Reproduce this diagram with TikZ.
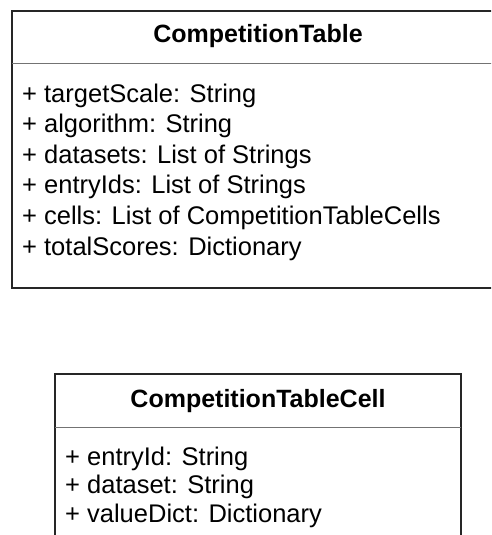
\documentclass[tikz,border=0pt]{standalone}
\usepackage{fontspec}
\setmainfont{Liberation Sans}
\begin{document}
\begin{tikzpicture}[x=1pt,y=-1pt,
  outerbox/.style={draw=black!85,line width=2pt},
  divider/.style={draw=black!55,line width=1pt},
  titletext/.style={anchor=base,inner sep=0pt,font=\fontsize{25}{30}\selectfont\bfseries},
  attrtext/.style={anchor=base west,inner sep=0pt,font=\fontsize{25.5}{30}\selectfont}]
\useasboundingbox (0,0) rectangle (491,535);
\clip (0,0) rectangle (491,535);
% top class
\draw[outerbox] (12,11) rectangle (505,288);
\draw[divider] (12,64) -- (505,64);
\node[titletext] (t1) at (258,43) {CompetitionTable};
\node[attrtext] (a1) at (22,102) {+ targetScale: String};
\node[attrtext] (a2) at (22,132.6) {+ algorithm: String};
\node[attrtext] (a3) at (22,163.2) {+ datasets: List of Strings};
\node[attrtext] (a4) at (22,193.8) {+ entryIds: List of Strings};
\node[attrtext] (a5) at (22,224.4) {+ cells: List of CompetitionTableCells};
\node[attrtext] (a6) at (22,255) {+ totalScores: Dictionary};
% bottom class
\draw[outerbox,line width=1.6pt] (55,374) rectangle (461,560);
\draw[divider] (55,427) -- (461,427);
\node[titletext] (t2) at (258,407) {CompetitionTableCell};
\node[attrtext] (b1) at (65,465) {+ entryId: String};
\node[attrtext] (b2) at (65,493.5) {+ dataset: String};
\node[attrtext] (b3) at (65,522) {+ valueDict: Dictionary};
\end{tikzpicture}
\end{document}
